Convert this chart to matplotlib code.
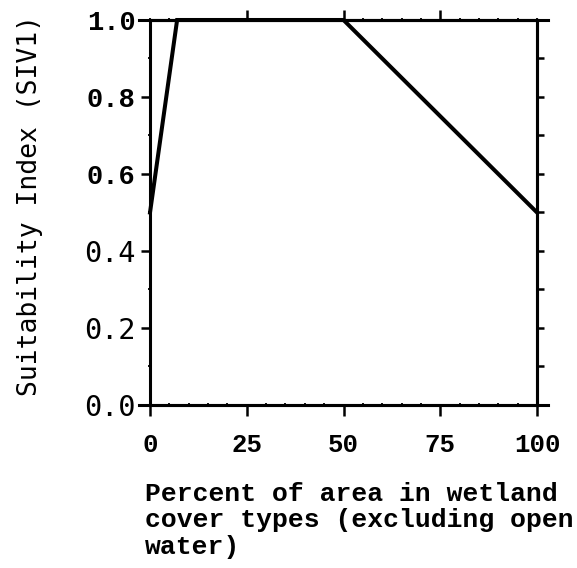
import numpy as np
import matplotlib
matplotlib.use("Agg")
import matplotlib.pyplot as plt
from matplotlib.ticker import MultipleLocator

# curve
pct_area = [0, 7, 50, 100]
siv1 = [0.5, 1.0, 1.0, 0.5]

xtick_vals = [0, 25, 50, 75, 100]
xtick_labels = ["0", "25", "50", "75", "100"]
ytick_vals = [0.0, 0.2, 0.4, 0.6, 0.8, 1.0]
ytick_labels = ["0.0", "0.2", "0.4", "0.6", "0.8", "1.0"]
bold_ylabels = ["0.6", "0.8", "1.0"]

fig = plt.figure(figsize=(5.77, 5.68), dpi=100)
ax = fig.add_axes([0.26, 0.287, 0.6707, 0.6778])

ax.plot(pct_area, siv1, color="black", lw=2.9, clip_on=False, solid_joinstyle="miter", zorder=5)

ax.set_xlim(0, 100)
ax.set_ylim(0, 1.0)
for s in ax.spines.values():
    s.set_linewidth(2.2)

# spines run a little past the corners
for yy in (0, 1):
    ax.plot([-0.028, 1.028], [yy, yy], transform=ax.transAxes, color="black",
            lw=2.2, clip_on=False)

ax.set_xticks(xtick_vals)
ax.set_xticklabels(xtick_labels)
ax.xaxis.set_minor_locator(MultipleLocator(5))
ax.set_yticks(ytick_vals)
ax.set_yticklabels(ytick_labels)
ax.yaxis.set_minor_locator(MultipleLocator(0.1))

ax.tick_params(axis="x", which="major", direction="out", length=8, width=1.8, pad=12)
ax.tick_params(axis="x", which="minor", direction="inout", length=3, width=1.3)
ax.tick_params(axis="y", which="major", direction="out", length=6.5, width=1.8, pad=4)
ax.tick_params(axis="y", which="minor", direction="inout", length=3, width=1.3)

for t in ax.get_xticklabels():
    t.set_fontfamily("Liberation Mono")
    t.set_fontweight("bold")
    t.set_fontsize(18.5)
for t in ax.get_yticklabels():
    if t.get_text() in bold_ylabels:
        t.set_fontfamily("Liberation Mono")
        t.set_fontweight("bold")
        t.set_fontsize(19.5)
    else:
        t.set_fontfamily("DejaVu Sans Mono")
        t.set_fontsize(20.5)

# right and top ticks
axr = ax.secondary_yaxis("right")
axr.set_yticks(np.arange(0.1, 1.0, 0.1))
axr.set_yticklabels([])
axr.tick_params(direction="out", length=5, width=1.8)
axr.spines["right"].set_linewidth(2.2)

axt = ax.secondary_xaxis("top")
axt.set_xticks([25, 50, 75])
axt.set_xticklabels([])
axt.xaxis.set_minor_locator(MultipleLocator(5))
axt.tick_params(which="major", direction="out", length=7, width=1.8)
axt.tick_params(which="minor", direction="inout", length=3, width=1.3)
axt.spines["top"].set_linewidth(2.2)

fig.text(30 / 577, 1 - 205 / 568, "Suitability Index (SIV1)", rotation=90,
         ha="center", va="center", fontsize=19, family="DejaVu Sans Mono")

fig.text(145 / 577, 1 - 482 / 568,
         "Percent of area in wetland\ncover types (excluding open\nwater)",
         ha="left", va="top", fontsize=19, family="Liberation Mono",
         fontweight="bold", linespacing=1.12)

fig.savefig("out.png", dpi=100)
